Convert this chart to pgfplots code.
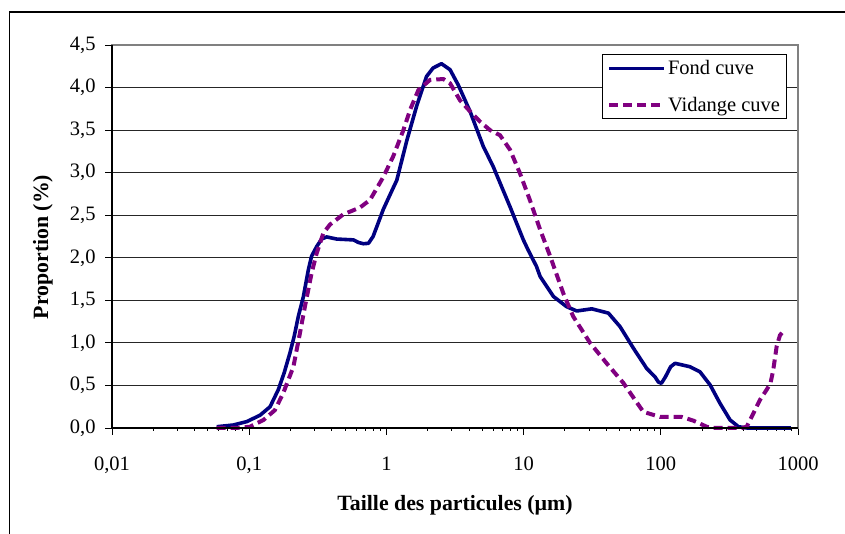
\documentclass[border=0pt]{standalone}
\usepackage{pgfplots}
\pgfplotsset{compat=1.18}
\usepackage{fontspec}
\setmainfont{Liberation Serif}
\definecolor{fondc}{HTML}{000080}
\definecolor{vidc}{HTML}{800080}
\begin{document}
\begin{tikzpicture}[x=1pt,y=1pt]
\useasboundingbox (0,0) rectangle (845,534);
\draw[black, line width=1.1pt] (9.5,0) -- (9.5,522) -- (846,522);
\begin{axis}[
  at={(112pt,106pt)}, anchor=south west,
  scale only axis, width=686pt, height=383pt,
  xmode=log, xmin=0.01, xmax=1000,
  ymin=0, ymax=4.5,
  xtick={0.01,0.1,1,10,100,1000},
  xticklabels={{0,01},{0,1},1,10,100,1000},
  minor xtick={}, 
  ytick={0,0.5,...,4.5},
  tick align=outside, tick pos=left,
  major tick length=7pt,
  tick style={black, line width=0.9pt},
  ymajorgrids, major grid style={black!85, line width=0.9pt},
  axis line style={draw=gray, line width=1.2pt},
  tick label style={font=\fontsize{20.5}{24}\selectfont},
  xticklabel style={yshift=-18pt},
  yticklabel style={xshift=-6pt, /pgf/number format/.cd, use comma, fixed, fixed zerofill, precision=1, assume math mode=true},
  xlabel={\textbf{Taille des particules (µm)}},
  ylabel={\textbf{Proportion (\%)}},
  label style={font=\fontsize{21.8}{25}\selectfont},
  xlabel style={at={(axis description cs:0.5,-0.201)}, anchor=center},
  ylabel style={at={(axis description cs:-0.1006,0.4726)}, anchor=center},
  clip=false,
  legend style={at={(rel axis cs:0.984,0.9765)}, anchor=north east,
    draw=black, line width=0.9pt, fill=white,
    font=\fontsize{20.5}{24}\selectfont, row sep=17pt, inner xsep=4.5pt, inner ysep=4pt},
  legend cell align=left,
  legend image code/.code={\draw[#1] (0pt,0pt) -- (55pt,0pt);},
]
\addplot[fondc, line width=3.6pt, line join=round] coordinates {
(0.058,0.015) (0.0766,0.035) (0.096,0.075) (0.12,0.15) (0.142,0.25) (0.163,0.45)
(0.18,0.65) (0.198,0.88) (0.213,1.08) (0.228,1.31) (0.248,1.54) (0.27,1.86)
(0.285,2.02) (0.31,2.13) (0.337,2.22) (0.367,2.245) (0.434,2.22) (0.575,2.21)
(0.625,2.18) (0.68,2.165) (0.74,2.17) (0.80,2.25) (0.95,2.57) (1.12,2.82)
(1.19,2.91) (1.41,3.38) (1.66,3.78) (1.96,4.13) (2.19,4.23) (2.52,4.28)
(2.91,4.21) (3.34,4.03) (4.07,3.72) (5.08,3.31) (6.01,3.07) (7.96,2.60)
(9.96,2.21) (10.8,2.09) (12.4,1.90) (13.2,1.78) (16.5,1.545) (20.6,1.425)
(24.4,1.375) (31.4,1.40) (41.5,1.35) (50.5,1.19) (63,0.94) (78.9,0.70)
(90.8,0.60) (96,0.54) (101,0.525) (108,0.6) (118,0.72) (127,0.76)
(163,0.72) (193,0.66) (229,0.505) (270,0.29) (320,0.094) (368,0.015)
(425,0) (889,0)
};
\addlegendentry{Fond cuve}
\addplot[vidc, line width=4pt, dash pattern=on 9pt off 5pt] coordinates {
(0.058,0.0) (0.08,0.0) (0.101,0.015) (0.127,0.094) (0.154,0.21) (0.177,0.41)
(0.21,0.72) (0.234,1.11) (0.255,1.43) (0.285,1.82) (0.31,2.05) (0.347,2.29)
(0.388,2.39) (0.485,2.51) (0.642,2.59) (0.76,2.68) (0.897,2.88) (0.95,2.95)
(1.12,3.19) (1.33,3.50) (1.49,3.74) (1.71,3.97) (2.08,4.09) (2.6,4.10)
(2.91,4.05) (3.44,3.85) (4.07,3.72) (4.81,3.60) (5.69,3.50) (6.73,3.44)
(7.96,3.27) (9.42,2.99) (11.1,2.68) (13.2,2.33) (15.6,2.02) (19.5,1.58)
(23,1.31) (30.5,1.0) (40.3,0.76) (53.3,0.53) (64.9,0.33) (74.6,0.19)
(98.7,0.13) (142,0.13) (173,0.086) (216,0.015) (240,0) (390,0)
(423,0.015) (472,0.17) (528,0.33) (591,0.45) (631,0.53) (660,0.68)
(699,0.96) (739,1.09) (804,1.16)
};
\addlegendentry{Vidange cuve}
\draw[black, line width=1.2pt] (rel axis cs:0,1) -- (rel axis cs:0,0) -- (rel axis cs:1,0);
\end{axis}
\end{tikzpicture}
\end{document}
